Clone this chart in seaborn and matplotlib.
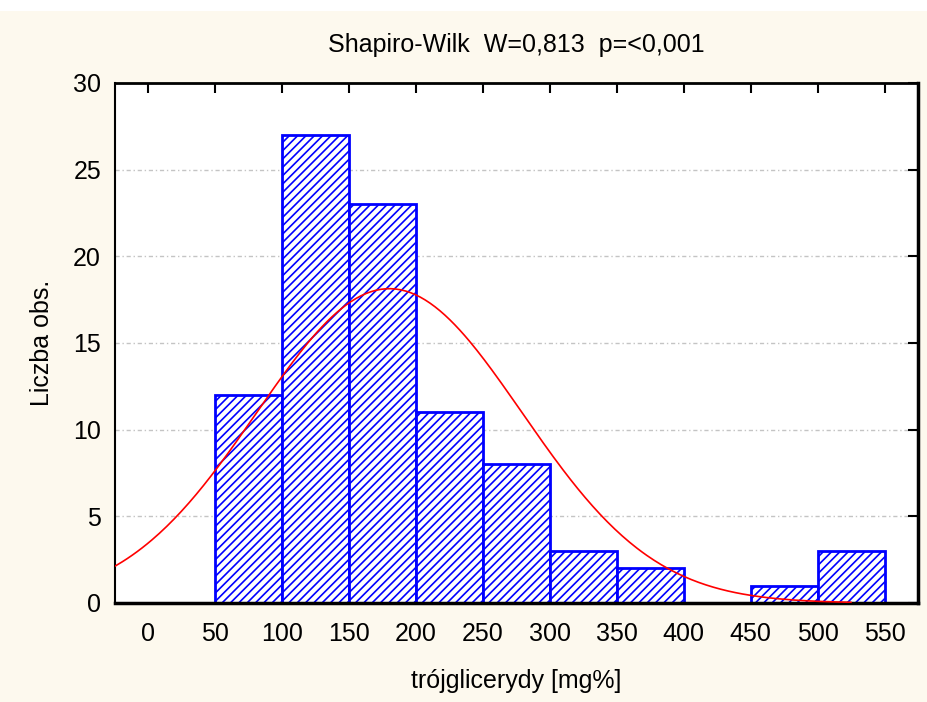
import numpy as np
import matplotlib
matplotlib.use("Agg")
import matplotlib.pyplot as plt
import seaborn as sns
from matplotlib.patches import Rectangle

# Dane: liczebności w przedziałach (co 50 mg%)
bin_edges = [50, 100, 150, 200, 250, 300, 350, 400, 450, 500, 550]
counts = [12, 27, 23, 11, 8, 3, 2, 0, 1, 3]
xticks = [0, 50, 100, 150, 200, 250, 300, 350, 400, 450, 500, 550]
yticks = [0, 5, 10, 15, 20, 25, 30]

# Parametry krzywej normalnej (dopasowanie do wykresu)
mean_tg = 180
sd_tg = 99

centers = [(a + b) / 2 for a, b in zip(bin_edges[:-1], bin_edges[1:])]
n_total = sum(counts)

sns.set_style("white")
plt.rcParams['font.family'] = ['Liberation Sans Narrow', 'Liberation Sans', 'DejaVu Sans']
plt.rcParams['text.color'] = 'black'
plt.rcParams['axes.labelcolor'] = 'black'
plt.rcParams['hatch.color'] = 'blue'
plt.rcParams['hatch.linewidth'] = 1.2

fig = plt.figure(figsize=(9.27, 7.02), dpi=100, facecolor='#fdf9ee')
fig.patches.append(Rectangle((0, 0.985), 1, 0.015, transform=fig.transFigure,
                             facecolor='white', edgecolor='none', zorder=0))
ax = fig.add_axes([115 / 927, 1 - 603 / 702, (918 - 115) / 927, (603 - 83) / 702])
ax.set_facecolor('white')

sns.histplot(x=centers, weights=counts, bins=bin_edges, ax=ax,
             color='white', edgecolor='blue', linewidth=2, alpha=1,
             hatch='////', zorder=2)

# Krzywa normalna
xs = np.linspace(-25, 525, 300)
ys = n_total * 50 / (sd_tg * np.sqrt(2 * np.pi)) * np.exp(-(xs - mean_tg) ** 2 / (2 * sd_tg ** 2))
sns.lineplot(x=xs, y=ys, ax=ax, color='red', linewidth=1.2, zorder=3)

ax.set_xlim(-25, 575)
ax.set_ylim(0, 30)
ax.set_xticks(xticks)
ax.set_yticks(yticks)
ax.yaxis.grid(True, color='#c4c4c4', linestyle=(0, (3, 2, 1, 2)), linewidth=1, zorder=0)
ax.set_axisbelow(True)
ax.tick_params(direction='in', length=7, width=1.5, top=True, right=True,
               labelsize=18, pad=10, colors='black')
ax.tick_params(axis='x', pad=14)
for side in ['left', 'right', 'top', 'bottom']:
    ax.spines[side].set_visible(True)
    ax.spines[side].set_color('black')
ax.spines['left'].set_linewidth(1.5)
ax.spines['top'].set_linewidth(2)
ax.spines['right'].set_linewidth(2.5)
ax.spines['bottom'].set_linewidth(2.5)

ax.set_xlabel('trójglicerydy [mg%]', fontsize=18, labelpad=16)
ax.set_ylabel('Liczba obs.', fontsize=18, labelpad=14)
ax.set_title('Shapiro-Wilk  W=0,813  p=<0,001', fontsize=18, pad=22)

fig.savefig('out.png', dpi=100, facecolor=fig.get_facecolor())
